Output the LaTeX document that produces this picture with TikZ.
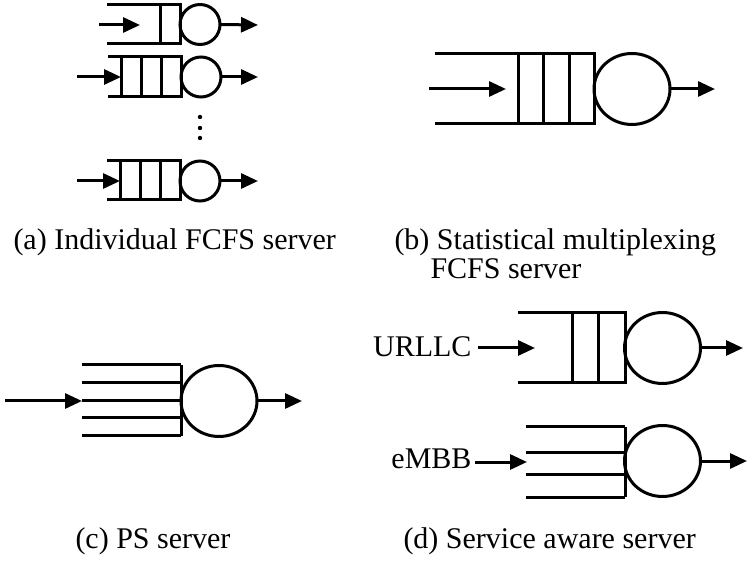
\documentclass[tikz,border=0pt]{standalone}
\usepackage{fontspec}
\setmainfont{Liberation Serif}
\usetikzlibrary{arrows.meta,shapes.geometric}
\begin{document}
\begin{tikzpicture}[x=1pt,y=-1pt,line width=3pt,
  arr/.style={-{Triangle[length=17pt,width=15pt]}},
  srv/.style={draw,ellipse,inner sep=0pt,outer sep=0pt},
  small/.style={srv,minimum width=40pt,minimum height=40pt},
  big/.style={srv,minimum width=76pt,minimum height=71pt},
  lbl/.style={inner sep=0pt,font=\fontsize{30}{28}\selectfont}]
\useasboundingbox (0,0) rectangle (748,564);

% (a) individual FCFS servers
% row 1
\draw (107,5) -- (180,5) -- (180,44) -- (107,44);
\draw (160,5) -- (160,44);
\node[small] (s1) at (200,24.5) {};
\coordinate (i1s) at (99,25); \coordinate (i1e) at (140,25);
\coordinate (o1) at (258,25);
\draw[arr] (i1s) -- (i1e);
\draw[arr] (s1.east) -- (o1);
% row 2
\draw (108,57) -- (181,57) -- (181,97) -- (108,97);
\foreach \x in {121,141,161} \draw (\x,57) -- (\x,97);
\node[small] (s2) at (201,77) {};
\coordinate (i2s) at (77,77); \coordinate (i2e) at (121,77);
\coordinate (o2) at (258,77);
\draw[arr] (i2s) -- (i2e);
\draw[arr] (s2.east) -- (o2);
% dots
\foreach \y in {117,128,138} \fill (200,\y) circle (2.2pt);
% row 3
\draw (107,161) -- (180,161) -- (180,200) -- (107,200);
\foreach \x in {120,140,160} \draw (\x,161) -- (\x,200);
\node[small] (s3) at (200,181) {};
\coordinate (i3s) at (77,181); \coordinate (i3e) at (120,181);
\coordinate (o3) at (258,181);
\draw[arr] (i3s) -- (i3e);
\draw[arr] (s3.east) -- (o3);
\node[lbl,anchor=base west] (ca) at (12,250) {(a) Individual FCFS server};

% (b) statistical multiplexing
\draw (435,54) -- (594,54) -- (594,124) -- (435,124);
\foreach \x in {518,543,569} \draw (\x,54) -- (\x,124);
\node[big] (sb) at (632,89) {};
\coordinate (ibs) at (429,89); \coordinate (ibe) at (506,89);
\coordinate (ob) at (715,89);
\draw[arr] (ibs) -- (ibe);
\draw[arr] (sb.east) -- (ob);
\node[lbl,anchor=base west] (cb1) at (393,250) {(b) Statistical multiplexing};
\node[lbl,anchor=base west] (cb2) at (429,279) {FCFS server};

% (c) PS server
\foreach \y in {365,383,401,418,436} \draw (82,\y) -- (181,\y);
\draw (181,365) -- (181,436);
\node[big] (sc) at (219,401) {};
\coordinate (ics) at (5,401); \coordinate (ice) at (82,401);
\coordinate (oc) at (302,401);
\draw[arr] (ics) -- (ice);
\draw[arr] (sc.east) -- (oc);
\node[lbl,anchor=base west] (cc) at (74,548) {(c) PS server};

% (d) service aware server
\draw (518,313) -- (625,313) -- (625,383) -- (518,383);
\foreach \x in {572,598} \draw (\x,313) -- (\x,383);
\node[big] (su) at (662.5,348) {};
\node[lbl,anchor=base east] (lu) at (473,357) {URLLC};
\coordinate (iue) at (535,348);
\coordinate (ou) at (743,348);
\draw[arr] (lu.east |- iue) ++(5,0) coordinate (ius) -- (iue);
\draw[arr] (su.east) -- (ou);

\foreach \y in {427,452,474,497} \draw (526,\y) -- (625,\y);
\draw (625,427) -- (625,497);
\node[big] (se) at (662.5,461) {};
\node[lbl,anchor=base east] (le) at (473,468) {eMBB};
\coordinate (iee) at (527,462);
\coordinate (oe) at (747,461);
\draw[arr] (le.east |- iee) ++(2,0) coordinate (ies) -- (iee);
\draw[arr] (se.east) -- (oe);
\node[lbl,anchor=base west] (cd) at (402,548) {(d) Service aware server};
\end{tikzpicture}
\end{document}
